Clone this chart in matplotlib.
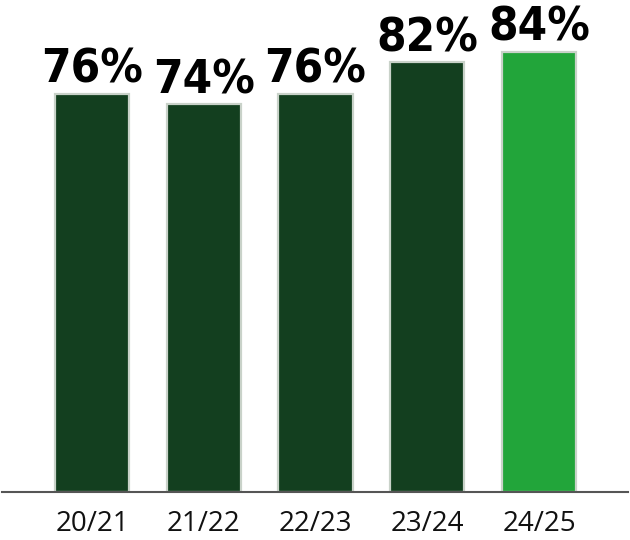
"""Bar chart of yearly percentages."""
import matplotlib
matplotlib.use("Agg")
import matplotlib.pyplot as plt

seasons = ["20/21", "21/22", "22/23", "23/24", "24/25"]
values = [76, 74, 76, 82, 84]
highlight = "24/25"

dark_green = "#133F1F"
bright_green = "#22A53A"

fig = plt.figure(figsize=(6.3, 5.4), dpi=100)
ax = fig.add_axes([2 / 630, 48 / 540, 626 / 630, 492 / 540])

colors = [bright_green if s == highlight else dark_green for s in seasons]
x = list(range(len(seasons)))
bars = ax.bar(x, values, width=0.665, color=colors,
              edgecolor="#C9D2C9", linewidth=1.6, zorder=2)

for rect, v in zip(bars, values):
    ax.text(rect.get_x() + rect.get_width() / 2, v + 0.2, f"{v}%",
            ha="center", va="bottom", fontsize=34, fontweight="bold",
            fontstretch="condensed", family="DejaVu Sans", color="black")

ax.set_xlim(-0.805, 4.797)
ax.set_ylim(0, 93.9)
ax.set_xticks(x)
ax.set_xticklabels(seasons, fontsize=20, family="Open Sans", color="#111111")
ax.tick_params(axis="x", length=0, pad=13)
ax.set_yticks([])
for side in ["left", "right", "top"]:
    ax.spines[side].set_visible(False)
ax.spines["bottom"].set_color("#555555")
ax.spines["bottom"].set_linewidth(1.5)
ax.spines["bottom"].set_zorder(3)

fig.savefig("out.png", dpi=100)
